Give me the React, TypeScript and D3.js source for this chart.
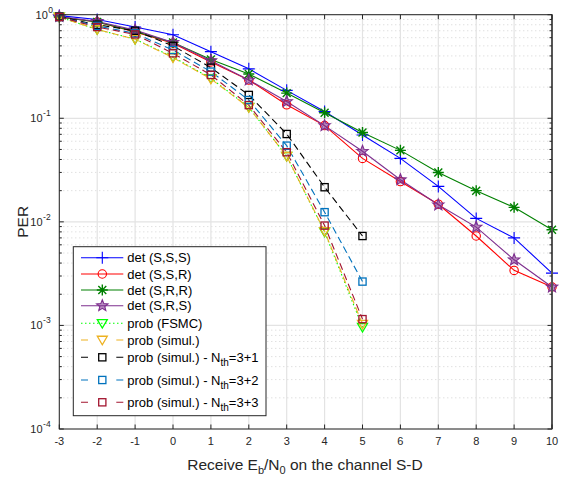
import React from "react";
import * as d3 from "d3";

const xs = [-3, -2, -1, 0, 1, 2, 3, 4, 5, 6, 7, 8, 9, 10];
const xsProb = [-3, -2, -1, 0, 1, 2, 3, 4, 5];
const xTicks = [-3, -2, -1, 0, 1, 2, 3, 4, 5, 6, 7, 8, 9, 10];
const yExps = [0, -1, -2, -3, -4];

const detSSS = [0.98, 0.9, 0.76, 0.64, 0.44, 0.3, 0.186, 0.116, 0.069, 0.041, 0.022, 0.0108, 0.007, 0.0032];
const detSSR = [0.95, 0.85, 0.68, 0.53, 0.35, 0.234, 0.135, 0.085, 0.041, 0.0245, 0.0148, 0.0073, 0.0034, 0.00235];
const detSRR = [0.95, 0.85, 0.69, 0.54, 0.37, 0.268, 0.175, 0.113, 0.073, 0.049, 0.03, 0.02, 0.0138, 0.0084];
const detSRS = [0.96, 0.86, 0.71, 0.54, 0.36, 0.234, 0.145, 0.085, 0.048, 0.0255, 0.0146, 0.0089, 0.0043, 0.00235];
const probFSMC = [0.95, 0.72, 0.58, 0.39, 0.243, 0.128, 0.043, 0.008, 0.00096];
const probSimul = [0.95, 0.72, 0.58, 0.385, 0.24, 0.127, 0.043, 0.0081, 0.00103];
const probN31 = [0.96, 0.8, 0.7, 0.5, 0.308, 0.168, 0.0705, 0.0216, 0.0073];
const probN32 = [0.95, 0.78, 0.66, 0.456, 0.282, 0.15, 0.0544, 0.0124, 0.00265];
const probN33 = [0.95, 0.76, 0.645, 0.424, 0.262, 0.134, 0.047, 0.0092, 0.00115];

type Series = {
  label: string;
  sub?: string;
  tail?: string;
  x: number[];
  y: number[];
  color: string;
  dash: string;
  marker: string;
};

const series: Series[] = [
  { label: "det (S,S,S)", x: xs, y: detSSS, color: "#0000ff", dash: "", marker: "plus" },
  { label: "det (S,S,R)", x: xs, y: detSSR, color: "#ff0000", dash: "", marker: "circle" },
  { label: "det (S,R,R)", x: xs, y: detSRR, color: "#008000", dash: "", marker: "asterisk" },
  { label: "det (S,R,S)", x: xs, y: detSRS, color: "#7e2f8e", dash: "", marker: "star" },
  { label: "prob (FSMC)", x: xsProb, y: probFSMC, color: "#00ff00", dash: "1.5 2.5", marker: "tri" },
  { label: "prob (simul.)", x: xsProb, y: probSimul, color: "#edb120", dash: "7 4", marker: "tri" },
  { label: "prob (simul.) - N", sub: "th", tail: "=3+1", x: xsProb, y: probN31, color: "#000000", dash: "7 4", marker: "square" },
  { label: "prob (simul.) - N", sub: "th", tail: "=3+2", x: xsProb, y: probN32, color: "#0072bd", dash: "7 4", marker: "square" },
  { label: "prob (simul.) - N", sub: "th", tail: "=3+3", x: xsProb, y: probN33, color: "#a2142f", dash: "7 4", marker: "square" },
];

const L = 59.3, R = 552, T = 14.7, B = 429;
const xScale = d3.scaleLinear().domain([-3, 10]).range([L, R]);
const yScale = d3.scaleLog().domain([1e-4, 1]).range([B, T]);

function Marker({ type, x, y, color }: { type: string; x: number; y: number; color: string }) {
  const sw = 1.1;
  if (type === "plus") {
    const s = 6;
    return <path d={`M${x - s},${y}H${x + s}M${x},${y - s}V${y + s}`} stroke={color} strokeWidth={sw} fill="none" />;
  }
  if (type === "circle") {
    return <circle cx={x} cy={y} r={4.2} stroke={color} strokeWidth={sw} fill="none" />;
  }
  if (type === "asterisk") {
    const s = 5.5, d = s * 0.72;
    return (
      <path
        d={`M${x - s},${y}H${x + s}M${x},${y - s}V${y + s}M${x - d},${y - d}L${x + d},${y + d}M${x - d},${y + d}L${x + d},${y - d}`}
        stroke={color}
        strokeWidth={sw + 0.3}
        fill="none"
      />
    );
  }
  if (type === "star") {
    const pts: string[] = [];
    const ro = 6, ri = 2.6;
    for (let i = 0; i < 10; i++) {
      const a = -Math.PI / 2 + (i * Math.PI) / 5;
      const r = i % 2 === 0 ? ro : ri;
      pts.push(`${x + r * Math.cos(a)},${y + r * Math.sin(a)}`);
    }
    return <polygon points={pts.join(" ")} stroke={color} strokeWidth={sw} fill={color} fillOpacity={0.55} />;
  }
  if (type === "tri") {
    const s = 5;
    return (
      <polygon
        points={`${x - s},${y - s * 0.75} ${x + s},${y - s * 0.75} ${x},${y + s * 0.95}`}
        stroke={color}
        strokeWidth={sw + 0.2}
        fill="none"
      />
    );
  }
  if (type === "square") {
    const s = 3.6;
    return <rect x={x - s} y={y - s} width={2 * s} height={2 * s} stroke={color} strokeWidth={sw + 0.2} fill="none" />;
  }
  return null;
}

export default function App() {
  const line = d3
    .line<[number, number]>()
    .x((d) => xScale(d[0]))
    .y((d) => yScale(d[1]));

  const majorY = yExps.map((e) => Math.pow(10, e));
  const minorY: number[] = [];
  for (let e = -4; e < 0; e++) for (let k = 2; k <= 9; k++) minorY.push(k * Math.pow(10, e));

  const legX = 73.3, legY = 246.7, legW = 192.7, legH = 169;
  const rowY = [257.7, 274, 290, 305.7, 323.3, 340, 357.3, 380, 402.3];

  return (
    <svg width={561} height={477} style={{ position: "absolute", left: 0, top: 0, fontFamily: "'Liberation Sans', Arial, Helvetica, sans-serif" }}>
      <rect x={0} y={0} width={561} height={477} fill="#fff" />
      {/* minor grid */}
      {minorY.map((v, i) => (
        <line key={"mg" + i} x1={L} x2={R} y1={yScale(v)} y2={yScale(v)} stroke="#c8c8c8" strokeWidth={0.8} strokeDasharray="1 3" />
      ))}
      {/* major grid */}
      {majorY.map((v, i) => (
        <line key={"My" + i} x1={L} x2={R} y1={yScale(v)} y2={yScale(v)} stroke="#e3e3e3" strokeWidth={1.2} />
      ))}
      {xTicks.map((v, i) => (
        <line key={"Mx" + i} x1={xScale(v)} x2={xScale(v)} y1={T} y2={B} stroke="#e3e3e3" strokeWidth={1.2} />
      ))}
      {/* series lines */}
      {series.map((s, i) => (
        <path
          key={"l" + i}
          d={line(s.x.map((x, j) => [x, s.y[j]] as [number, number])) || ""}
          stroke={s.color}
          strokeWidth={1.1}
          strokeDasharray={s.dash || undefined}
          fill="none"
        />
      ))}
      {series.map((s, i) => (
        <g key={"m" + i}>
          {s.x.map((x, j) => (
            <Marker key={j} type={s.marker} x={xScale(x)} y={yScale(s.y[j])} color={s.color} />
          ))}
        </g>
      ))}
      {/* axes box */}
      <rect x={L} y={T} width={R - L} height={B - T} fill="none" stroke="#262626" strokeWidth={1} />
      <line x1={R} x2={R} y1={T} y2={B} stroke="#555" strokeWidth={2} />
      {/* ticks */}
      {xTicks.map((v, i) => (
        <g key={"xt" + i}>
          <line x1={xScale(v)} x2={xScale(v)} y1={B} y2={B - 4.5} stroke="#262626" />
          <line x1={xScale(v)} x2={xScale(v)} y1={T} y2={T + 4.5} stroke="#262626" />
          <text x={xScale(v)} y={445} fontSize={11} textAnchor="middle" fill="#262626">
            {v}
          </text>
        </g>
      ))}
      {majorY.map((v, i) => (
        <g key={"yt" + i}>
          <line x1={L} x2={L + 4.5} y1={yScale(v)} y2={yScale(v)} stroke="#262626" />
          <line x1={R} x2={R - 4.5} y1={yScale(v)} y2={yScale(v)} stroke="#262626" />
        </g>
      ))}
      {minorY.map((v, i) => (
        <g key={"ymt" + i}>
          <line x1={L} x2={L + 2.5} y1={yScale(v)} y2={yScale(v)} stroke="#262626" />
          <line x1={R} x2={R - 2.5} y1={yScale(v)} y2={yScale(v)} stroke="#262626" />
        </g>
      ))}
      {yExps.map((e, i) => {
        const y = yScale(Math.pow(10, e));
        const sup = String(e).replace("-", "-");
        const supW = sup.length * 5.2;
        return (
          <g key={"yl" + i} fill="#262626">
            <text x={53 - supW} y={y + 4} fontSize={11} textAnchor="end">
              10
            </text>
            <text x={53 - supW + 0.5} y={y - 2} fontSize={8.5} textAnchor="start">
              {sup}
            </text>
          </g>
        );
      })}
      {/* axis titles */}
      <text x={305} y={470} fontSize={15.5} textAnchor="middle" fill="#262626">
        Receive E<tspan dy={4} fontSize={11}>b</tspan>
        <tspan dy={-4}>/N</tspan>
        <tspan dy={4} fontSize={11}>0</tspan>
        <tspan dy={-4}> on the channel S-D</tspan>
      </text>
      <text transform={`translate(28,${(T + B) / 2}) rotate(-90)`} fontSize={15.5} textAnchor="middle" fill="#262626">
        PER
      </text>
      {/* legend */}
      <rect x={legX} y={legY} width={legW} height={legH} fill="#fff" stroke="#262626" strokeWidth={1} />
      {series.map((s, i) => {
        const y = rowY[i];
        return (
          <g key={"lg" + i}>
            <line x1={81} x2={123.3} y1={y} y2={y} stroke={s.color} strokeWidth={1.1} strokeDasharray={s.dash ? (s.dash === "7 4" ? "7 28.3 7" : s.dash) : undefined} />
            <Marker type={s.marker} x={102.3} y={y} color={s.color} />
            <text x={127.3} y={y + 4.6} fontSize={13} fill="#000">
              {s.label}
              {s.sub ? (
                <>
                  <tspan dy={4} fontSize={10}>
                    {s.sub}
                  </tspan>
                  <tspan dy={-4}>{s.tail}</tspan>
                </>
              ) : null}
            </text>
          </g>
        );
      })}
    </svg>
  );
}
